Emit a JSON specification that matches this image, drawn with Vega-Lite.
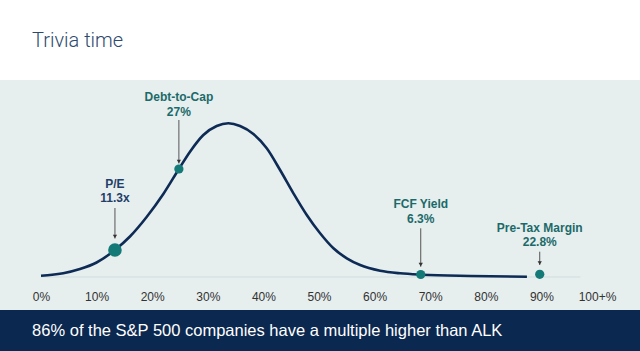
{
  "$schema": "https://vega.github.io/schema/vega-lite/v6.json",
  "width": 640,
  "height": 271,
  "autosize": "none",
  "padding": {"left": 0, "right": 0, "top": 80, "bottom": 0},
  "background": "#ffffff",
  "title": {
    "text": "Trivia time",
    "anchor": "start",
    "frame": "group",
    "dx": 32,
    "offset": 29,
    "fontSize": 20,
    "font": "Roboto",
    "fontWeight": 300,
    "color": "#2c4a6e"
  },
  "config": {
    "view": {"fill": "#e6eeee", "stroke": null},
    "text": {"font": "Liberation Sans"},
    "axisX": {
      "title": null, "domain": false, "ticks": false, "tickSize": 0, "grid": false,
      "labelPadding": 0, "offset": -55, "labelBaseline": "middle",
      "labelFontSize": 12, "labelColor": "#333333", "labelFont": "Liberation Sans",
      "labelFlush": false, "labelOverlap": false
    }
  },
  "datasets": {
    "curve": [
      {"pct": 0, "density": 1.3},
      {"pct": 2.0, "density": 2.2},
      {"pct": 4.0, "density": 3.8},
      {"pct": 7.0, "density": 8},
      {"pct": 10.0, "density": 14.5},
      {"pct": 13.3, "density": 27},
      {"pct": 16.0, "density": 40.5},
      {"pct": 19.0, "density": 60},
      {"pct": 22.0, "density": 83},
      {"pct": 24.8, "density": 108},
      {"pct": 26.8, "density": 125.3},
      {"pct": 29.2, "density": 142},
      {"pct": 31.6, "density": 151},
      {"pct": 33.7, "density": 153.7},
      {"pct": 35.8, "density": 151},
      {"pct": 38.2, "density": 143},
      {"pct": 40.6, "density": 128.7},
      {"pct": 43.0, "density": 107},
      {"pct": 45.4, "density": 83.7},
      {"pct": 47.8, "density": 62},
      {"pct": 50.2, "density": 43.7},
      {"pct": 52.6, "density": 28.7},
      {"pct": 55.0, "density": 18.7},
      {"pct": 57.4, "density": 12},
      {"pct": 61.0, "density": 6.3},
      {"pct": 64.6, "density": 3.7},
      {"pct": 68.5, "density": 2.3},
      {"pct": 77.2, "density": 1.0},
      {"pct": 87.4, "density": 0.3}
    ],
    "metrics": [
      {"metric": "P/E", "value_label": "11.3x", "pct": 13.3, "density": 27, "arrow_top": 69, "arrow_tip": 38.5, "name_y": 93, "value_y": 78.7},
      {"metric": "Debt-to-Cap", "value_label": "27%", "pct": 24.8, "density": 108, "arrow_top": 157, "arrow_tip": 113.5, "name_y": 179.7, "value_y": 165.3},
      {"metric": "FCF Yield", "value_label": "6.3%", "pct": 68.3, "density": 2.5, "arrow_top": 48.7, "arrow_tip": 10.3, "name_y": 73, "value_y": 58},
      {"metric": "Pre-Tax Margin", "value_label": "22.8%", "pct": 89.7, "density": 2.7, "arrow_top": 25.3, "arrow_tip": 12, "name_y": 48.7, "value_y": 34.7}
    ]
  },
  "layer": [
    {
      "data": {"values": [{}]},
      "mark": {"type": "rule", "color": "#d2dddd", "strokeWidth": 1},
      "encoding": {
        "x": {
          "datum": 0, "type": "quantitative", "title": null,
          "scale": {"domain": [-7.374, 107.734], "nice": false, "zero": false},
          "axis": {
            "values": [0, 10, 20, 30, 40, 50, 60, 70, 80, 90, 100],
            "labelExpr": "datum.value == 100 ? '100+%' : datum.value + '%'"
          }
        },
        "x2": {"datum": 97},
        "y": {
          "datum": 0, "type": "quantitative", "title": null,
          "scale": {"domain": [-74, 197], "nice": false, "zero": false},
          "axis": null
        }
      }
    },
    {
      "data": {"name": "curve"},
      "mark": {"type": "line", "interpolate": "monotone", "strokeWidth": 2.6, "color": "#0d2b55"},
      "encoding": {
        "x": {"field": "pct", "type": "quantitative", "title": null},
        "y": {"field": "density", "type": "quantitative", "title": null, "axis": null}
      }
    },
    {
      "data": {"name": "metrics"},
      "mark": {"type": "rule", "color": "#555555", "strokeWidth": 1},
      "encoding": {
        "x": {"field": "pct", "type": "quantitative", "title": null},
        "y": {"field": "arrow_top", "type": "quantitative", "title": null, "axis": null},
        "y2": {"field": "arrow_tip"}
      }
    },
    {
      "data": {"name": "metrics"},
      "mark": {"type": "point", "shape": "triangle-down", "filled": true, "size": 18, "color": "#333333", "opacity": 1, "yOffset": -2},
      "encoding": {
        "x": {"field": "pct", "type": "quantitative", "title": null},
        "y": {"field": "arrow_tip", "type": "quantitative", "title": null, "axis": null}
      }
    },
    {
      "data": {"name": "metrics"},
      "mark": {"type": "circle", "color": "#147a77", "opacity": 1},
      "encoding": {
        "x": {"field": "pct", "type": "quantitative", "title": null},
        "y": {"field": "density", "type": "quantitative", "title": null, "axis": null},
        "size": {"condition": {"test": "datum.metric === 'P/E'", "value": 185}, "value": 85}
      }
    },
    {
      "data": {"name": "metrics"},
      "mark": {"type": "text", "fontSize": 12, "fontWeight": "bold", "align": "center", "baseline": "middle"},
      "encoding": {
        "x": {"field": "pct", "type": "quantitative", "title": null},
        "y": {"field": "name_y", "type": "quantitative", "title": null, "axis": null},
        "text": {"field": "metric"},
        "color": {"condition": {"test": "datum.metric === 'P/E'", "value": "#1f3f68"}, "value": "#1b6a69"}
      }
    },
    {
      "data": {"name": "metrics"},
      "mark": {"type": "text", "fontSize": 12, "fontWeight": "bold", "align": "center", "baseline": "middle"},
      "encoding": {
        "x": {"field": "pct", "type": "quantitative", "title": null},
        "y": {"field": "value_y", "type": "quantitative", "title": null, "axis": null},
        "text": {"field": "value_label"},
        "color": {"condition": {"test": "datum.metric === 'P/E'", "value": "#1f3f68"}, "value": "#1b6a69"}
      }
    },
    {
      "data": {"values": [{}]},
      "mark": {"type": "rect", "color": "#0b2850"},
      "encoding": {
        "x": {"datum": -7.374, "type": "quantitative", "title": null},
        "x2": {"datum": 107.734},
        "y": {"datum": -33, "type": "quantitative", "title": null, "axis": null},
        "y2": {"datum": -74}
      }
    },
    {
      "data": {"values": [{}]},
      "mark": {"type": "text", "align": "left", "baseline": "middle", "fontSize": 16.5, "color": "#ffffff", "font": "Liberation Sans"},
      "encoding": {
        "x": {"datum": -1.6, "type": "quantitative", "title": null},
        "y": {"datum": -53.5, "type": "quantitative", "title": null, "axis": null},
        "text": {"value": "86% of the S&P 500 companies have a multiple higher than ALK"}
      }
    }
  ]
}
